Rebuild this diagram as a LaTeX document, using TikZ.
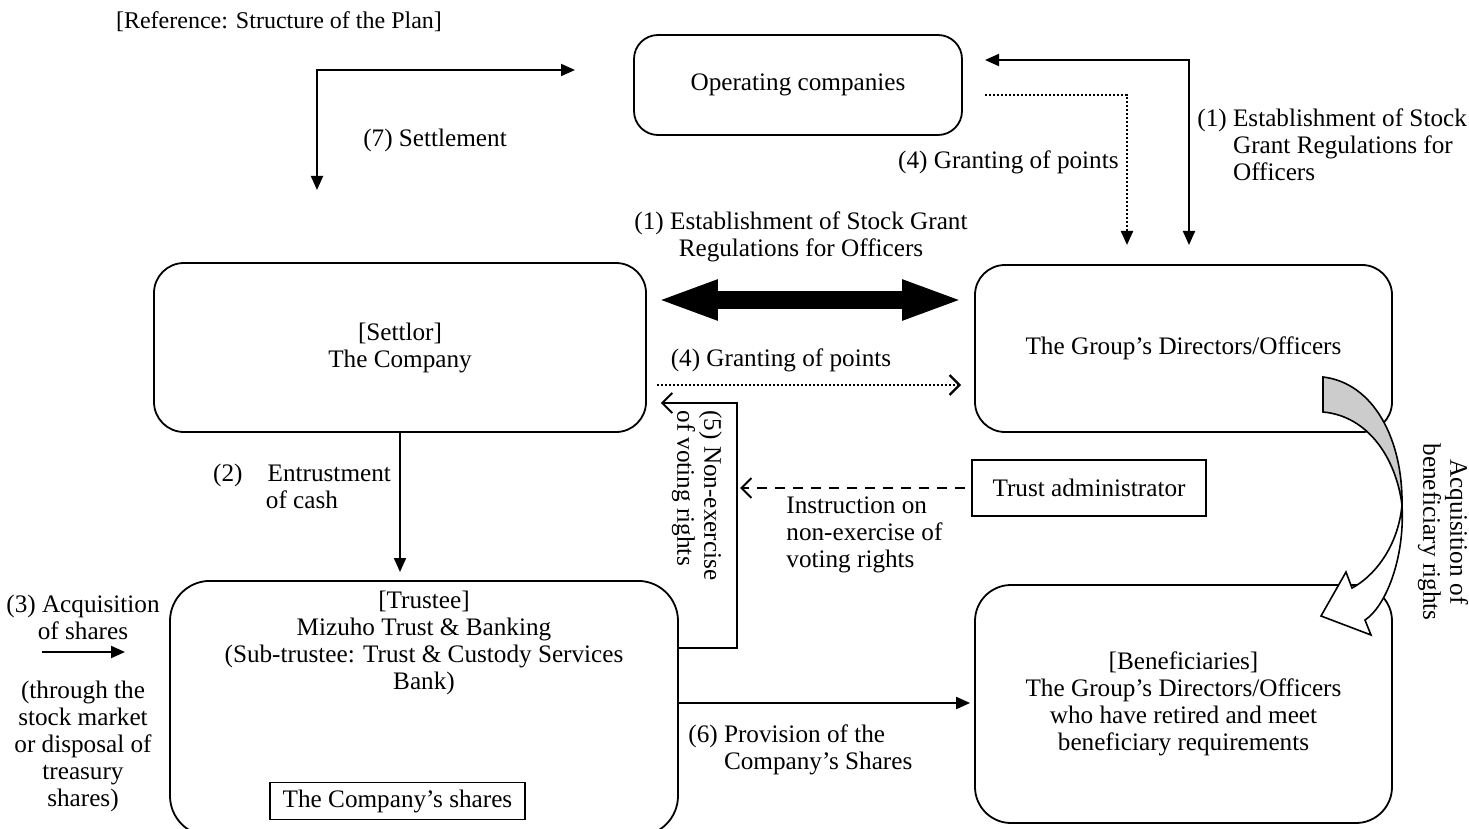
\documentclass[tikz,border=0pt]{standalone}
\usepackage{fontspec}
\setmainfont{Liberation Serif}
\usetikzlibrary{arrows.meta,calc}
\begin{document}
\begin{tikzpicture}[x=0.5pt,y=-0.5pt,
  font=\fontsize{12.6}{13.5}\selectfont,
  box/.style={draw, line width=0.9pt, rounded corners=15pt, align=center, inner sep=0pt},
  sqbox/.style={draw, line width=0.9pt, align=center, inner sep=0pt},
  plain/.style={align=center, inner sep=0pt},
  tri/.tip={Triangle[length=7pt,width=6pt]},
  arr/.style={line width=1pt, -tri},
  barr/.style={line width=1pt, tri-tri},
  oarr/.style={line width=1pt, -{Straight Barb[length=5pt,width=10pt]}},
  dotline/.style={line width=1.1pt, dash pattern=on 1.1pt off 0.9pt},
  dashline/.style={line width=1pt, dash pattern=on 5pt off 4pt},
]
\useasboundingbox (0,0) rectangle (1469,829);
\clip (0,0) rectangle (1469,829);
\fill[white] (0,0) rectangle (1469,829);

% boxes
\node[box, rounded corners=12pt, minimum width=164pt, minimum height=50pt] (opc) at (798,85) {Operating companies};
\node[box, minimum width=246pt, minimum height=84.5pt] (settlor) at (400,347.5) {[Settlor]\\The Company};
\node[box, minimum width=208.5pt, minimum height=83.5pt] (group) at (1183.5,348.5) {The Group’s Directors/Officers};
\node[sqbox, minimum width=117pt, minimum height=28pt] (admin) at (1089,488) {Trust administrator};
\node[box, rounded corners=20pt, minimum width=254pt, minimum height=127.5pt, anchor=north] (trustee) at (424,580) {};
\node[plain] (trusteetxt) at (424,643) {[Trustee]\\Mizuho Trust \& Banking\\(Sub-trustee: Trust \& Custody Services\\Bank)};
\node[sqbox, minimum width=127.5pt, minimum height=18.5pt] (shares) at (397.5,801) {The Company’s shares};
\node[box, rounded corners=18pt, minimum width=208.5pt, minimum height=119pt] (benef) at (1183.5,704) {[Beneficiaries]\\The Group’s Directors/Officers\\who have retired and meet\\beneficiary requirements};

% labels
\node[plain, font=\fontsize{12}{13.5}\selectfont] (title) at (279,22) {[Reference: Structure of the Plan]};
\node[plain] (lbl7) at (435,140) {(7) Settlement};
\node[plain, anchor=east] (lbl4a) at (1119,162) {(4) Granting of points};
\node[plain, align=left, anchor=west] (lbl1a) at (1197,145) {(1) Establishment of Stock\\\hphantom{(1)~}Grant Regulations for\\\hphantom{(1)~}Officers};
\node[plain] (lbl1b) at (801,237) {(1) Establishment of Stock Grant\\Regulations for Officers};
\node[plain] (lbl4b) at (781,360) {(4) Granting of points};
\node[plain] (lbl2) at (302,486) {(2)\quad Entrustment\\of cash};
\node[plain, align=left, anchor=west] (lblins) at (786,535) {Instruction on\\non-exercise of\\voting rights};
\node[plain, align=left, rotate=-90, anchor=west] (lbl5) at (697,410) {(5) Non-exercise\\of voting rights};
\node[plain, rotate=-90] (lblacq) at (1443,532) {Acquisition of\\beneficiary rights};
\node[plain] (lbl3) at (83,617) {(3) Acquisition\\of shares};
\node[plain] (lblthru) at (83,746) {(through the\\stock market\\or disposal of\\treasury\\shares)};
\node[plain, align=left, anchor=west] (lbl6) at (688,750) {(6) Provision of the\\\hphantom{(6)~}Company’s Shares};

% connectors
\coordinate (st1) at (575,70);
\coordinate (st2) at (317,190);
\draw[barr] (st1) -| (st2);

\coordinate (e1) at (985,60);
\coordinate (e2) at (1189,245);
\draw[barr] (e1) -| (e2);

\coordinate (g1) at (985,95);
\coordinate (g2) at (1127,245);
\draw[dotline, -tri] (g1) -| (g2);

\coordinate (t1) at ($(settlor.east)+(9,-47.5)$);
\coordinate (t2) at ($(group.west)+(-10,-48.5)$);
\draw[line width=9pt, {Triangle[length=31pt,width=18pt]}-{Triangle[length=31pt,width=18pt]}] (t1) -- (t2);

\coordinate (d1) at ($(settlor.east)+(10,37.5)$);
\coordinate (d2) at ($(group.west)+(-13,36.5)$);
\draw[dotline, -{Straight Barb[length=5pt,width=10pt]}] (d1) -- (d2);

\coordinate (y648) at (0,648);
\coordinate (v5) at ($(settlor.east)+(14,55.5)$);
\draw[oarr] (trustee.east |- y648) -| (737,403) -- (v5);

\coordinate (dash2) at (740,488);
\draw[dashline, -{Straight Barb[length=5pt,width=10pt]}, shorten <=3pt] (admin.west) -- (dash2);

\draw[arr, shorten >=4pt] (settlor.south) -- (settlor.south |- trustee.north);

\coordinate (y703) at (0,703);
\draw[arr, shorten >=2pt] (trustee.east |- y703) -- (benef.west |- y703);

\coordinate (a3s) at (42,652);
\coordinate (a3e) at (125,652);
\draw[arr] (a3s) -- (a3e);

% curved block arrow
\draw[line width=0.8pt, fill=black!20]
  (1323,377) .. controls (1374,383) and (1403,440) .. (1402,505)
  .. controls (1396,458) and (1368,416) .. (1323,412) -- cycle;
\draw[line width=0.8pt, fill=white, line join=miter]
  (1402,505) .. controls (1405,560) and (1385,607) .. (1365,620)
  -- (1371,635) -- (1321,616) -- (1346,572) -- (1352,588)
  .. controls (1373,577) and (1398,548) .. (1402,505) -- cycle;
\end{tikzpicture}
\end{document}
